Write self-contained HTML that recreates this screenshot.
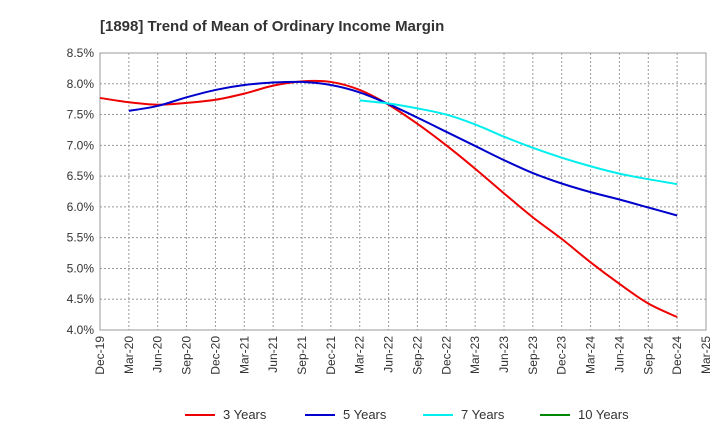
<!DOCTYPE html>
<html><head><meta charset="utf-8"><style>
body{margin:0;background:#fff;font-family:"Liberation Sans",sans-serif}
</style></head><body>
<svg id="chart" width="720" height="440" xmlns="http://www.w3.org/2000/svg" font-family="Liberation Sans, sans-serif">
<text x="100" y="31" font-size="15" font-weight="bold" fill="#333">[1898]  Trend of Mean of Ordinary Income Margin</text>
<g id="grid"></g><g id="axes"></g><g id="series"></g><g id="legend"></g>
</svg>
<script>
const categories=["Dec-19","Mar-20","Jun-20","Sep-20","Dec-20","Mar-21","Jun-21","Sep-21","Dec-21","Mar-22","Jun-22","Sep-22","Dec-22","Mar-23","Jun-23","Sep-23","Dec-23","Mar-24","Jun-24","Sep-24","Dec-24","Mar-25"];
const yTicks=[4.0,4.5,5.0,5.5,6.0,6.5,7.0,7.5,8.0,8.5];
const seriesNames=["3 Years","5 Years","7 Years","10 Years"];
const seriesColors=["#e00","#00c","#0ee","#080"];
const y3=[7.77,7.70,7.66,7.69,7.74,7.84,7.97,8.04,8.03,7.90,7.66,7.35,7.00,6.62,6.22,5.83,5.48,5.10,4.75,4.43,4.21,null];
const y5=[null,7.56,7.64,7.78,7.90,7.98,8.02,8.03,7.98,7.86,7.67,7.45,7.22,6.99,6.76,6.55,6.38,6.24,6.12,5.99,5.86,null];
const y7=[null,null,null,null,null,null,null,null,null,7.73,7.68,7.60,7.50,7.34,7.14,6.96,6.80,6.66,6.54,6.45,6.37,null];
const y10=[];
const L=100,R=706,T=53,B=330,NS="http://www.w3.org/2000/svg";
const xs=i=>L+i*(R-L)/(categories.length-1);
const ys=v=>B-(v-4.0)/(8.5-4.0)*(B-T);
function mk(tag,attrs,parent,text){const e=document.createElementNS(NS,tag);for(const k in attrs)e.setAttribute(k,attrs[k]);if(text!=null)e.textContent=text;parent.appendChild(e);return e;}
const grid=document.getElementById('grid'),axes=document.getElementById('axes'),ser=document.getElementById('series'),leg=document.getElementById('legend');
mk('rect',{x:L,y:T,width:R-L,height:B-T,fill:'#fff',stroke:'#999'},grid);
categories.forEach((c,i)=>{const x=xs(i);
 const g=mk('line',{x1:x,x2:x,y1:T,y2:B,stroke:'#999','stroke-dasharray':'2,2'},grid);
 
 const t=mk('text',{x:0,y:0,transform:`translate(${x+4},${B+6}) rotate(-90)`,'text-anchor':'end','font-size':12,fill:'#333'},axes,c);
 });
yTicks.forEach(v=>{const y=ys(v);
 const g=mk('line',{x1:L,x2:R,y1:y,y2:y,stroke:'#999','stroke-dasharray':'2,2'},grid);
 
 const t=mk('text',{x:L-6,y:y+4,'text-anchor':'end','font-size':12,fill:'#333'},axes,v.toFixed(1)+'%');
 });
function path(vals){const p=[];vals.forEach((v,i)=>{if(v!=null)p.push([xs(i),ys(v)]);});if(p.length<2)return '';
 let d=`M${p[0][0]},${p[0][1]}`;for(let i=0;i<p.length-1;i++){const p0=p[i-1]||p[i],p1=p[i],p2=p[i+1],p3=p[i+2]||p2;
 d+=` C${p1[0]+(p2[0]-p0[0])/6},${p1[1]+(p2[1]-p0[1])/6} ${p2[0]-(p3[0]-p1[0])/6},${p2[1]-(p3[1]-p1[1])/6} ${p2[0]},${p2[1]}`;}return d;}
[y3,y5,y7,y10].forEach((vals,k)=>{const d=path(vals);if(!d)return;
 const e=mk('path',{d:d,fill:'none',stroke:seriesColors[k],'stroke-width':2},ser);
 });
const lx=[185,305,423,540];
seriesNames.forEach((n,k)=>{
 const g=mk('g',{},leg);
 mk('line',{x1:lx[k],x2:lx[k]+30,y1:415,y2:415,stroke:seriesColors[k],'stroke-width':2},g);
 mk('text',{x:lx[k]+38,y:419,'font-size':13,fill:'#333'},g,n);});
</script>
</body></html>
